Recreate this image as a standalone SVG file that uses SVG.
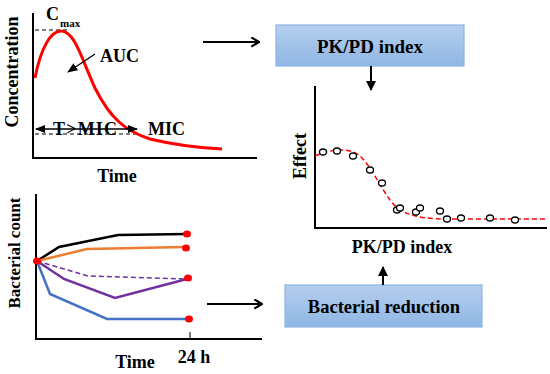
<svg xmlns="http://www.w3.org/2000/svg" width="550" height="374" viewBox="0 0 550 374">
<style>
text{font-family:"Liberation Serif","Times New Roman",serif;font-weight:bold;fill:#000;}
.t18{font-size:18px;}
.ax{stroke:#000;stroke-width:2;fill:none;}
.dash{stroke:#000;stroke-width:1;stroke-dasharray:4,3;fill:none;}
.conn{stroke:#000;stroke-width:2;fill:none;}
.box{fill:url(#bg);stroke:#8eb4e3;stroke-width:1.2;}
.dot{fill:#ff0000;}
.pt{fill:#fff;stroke:#000;stroke-width:1.3;}
</style>
<defs>
<linearGradient id="bg" x1="0" y1="0" x2="0" y2="1">
<stop offset="0" stop-color="#b5cfee"/>
<stop offset="1" stop-color="#8fb6e4"/>
</linearGradient>
<marker id="ah" viewBox="0 0 10 10" refX="9" refY="5" markerWidth="5" markerHeight="5" orient="auto-start-reverse" markerUnits="strokeWidth">
<path d="M0,0 L10,5 L0,10 z" fill="#000"/>
</marker>
<marker id="ao" viewBox="0 0 10 10" refX="9" refY="5" markerWidth="5.5" markerHeight="5.5" orient="auto" markerUnits="strokeWidth">
<path d="M2,0.8 L9,5 L2,9.2" fill="none" stroke="#000" stroke-width="2"/>
</marker>
<marker id="as" viewBox="0 0 10 10" refX="9" refY="5" markerWidth="8" markerHeight="8" orient="auto-start-reverse" markerUnits="strokeWidth">
<path d="M0,1 L10,5 L0,9 z" fill="#000"/>
</marker>
</defs>

<g id="concentration-plot">
<path class="ax" d="M33,13 L33,158 L257,158"/>
<path class="dash" d="M35,30 L70,30"/>
<path class="dash" d="M35,134 L138,134"/>
<path d="M35,78 C41,47 51,31 61,31 C75,31 82,60 95,88 C110,118 125,131 150,139 C175,145 200,148 222,149" fill="none" stroke="#ff0000" stroke-width="3"/>
<text class="t18" x="46" y="20">C</text>
<text x="60" y="27" style="font-size:11px">max</text>
<text class="t18" x="100" y="62">AUC</text>
<line x1="95" y1="54" x2="68" y2="72" stroke="#000" stroke-width="1.3" marker-end="url(#as)"/>
<line x1="36" y1="129" x2="137" y2="129" stroke="#000" stroke-width="1.3" marker-start="url(#as)" marker-end="url(#as)"/>
<text class="t18" x="53" y="135" textLength="64">T&gt;MIC</text>
<text class="t18" x="148" y="135">MIC</text>
<text class="t18" x="12" y="72" text-anchor="middle" transform="rotate(-90 12 72)" dy="6">Concentration</text>
<text class="t18" x="117" y="182" text-anchor="middle">Time</text>
</g>

<g id="bacterial-plot">
<path class="ax" d="M36,194 L36,339 L262,339"/>
<line x1="190" y1="332" x2="190" y2="339" stroke="#000" stroke-width="1"/>
<polyline points="37,261 59,247 118,235 187,234" fill="none" stroke="#000" stroke-width="2.5"/>
<polyline points="37,261 87,249 185,247" fill="none" stroke="#ed7d31" stroke-width="2.5"/>
<polyline points="37,261 88,276 187,279" fill="none" stroke="#7030a0" stroke-width="1.5" stroke-dasharray="5,3"/>
<polyline points="37,261 64,279 115,298 187,279" fill="none" stroke="#7030a0" stroke-width="2.5"/>
<polyline points="37,261 50,294 107,319 187,319" fill="none" stroke="#4472c4" stroke-width="2.5"/>
<ellipse class="dot" cx="37" cy="261" rx="4" ry="3.5"/>
<ellipse class="dot" cx="187" cy="234" rx="4" ry="3.5"/>
<ellipse class="dot" cx="186" cy="248" rx="4" ry="3.5"/>
<ellipse class="dot" cx="188" cy="278" rx="4" ry="3.5"/>
<ellipse class="dot" cx="189" cy="319" rx="4" ry="3.5"/>
<text class="t18" x="14" y="253" text-anchor="middle" transform="rotate(-90 14 253)" dy="6" style="font-size:17px">Bacterial count</text>
<text class="t18" x="135" y="368" text-anchor="middle">Time</text>
<text class="t18" x="194" y="363" text-anchor="middle">24 h</text>
</g>

<g id="pkpd-box">
<rect class="box" x="276" y="25" width="188" height="41"/>
<text class="t18" x="370" y="53" text-anchor="middle" style="font-size:19px">PK/PD index</text>
</g>

<g id="reduction-box">
<rect class="box" x="285" y="285" width="197" height="42"/>
<text class="t18" x="384" y="313" text-anchor="middle" style="font-size:18.5px">Bacterial reduction</text>
</g>

<g id="effect-plot">
<path class="ax" d="M315,86 L315,228 L547,228"/>
<path d="M315,156 C330,150 348,146 360,156 C375,170 385,200 400,210 C415,218 430,219 450,219 L545,219" fill="none" stroke="#ff0000" stroke-width="1.5" stroke-dasharray="5,3"/>
<ellipse class="pt" cx="323" cy="152" rx="3.5" ry="3"/>
<ellipse class="pt" cx="337" cy="151" rx="3.5" ry="3"/>
<ellipse class="pt" cx="353" cy="156" rx="3.5" ry="3"/>
<ellipse class="pt" cx="370" cy="170" rx="3.5" ry="3"/>
<ellipse class="pt" cx="382" cy="183" rx="3.5" ry="3"/>
<ellipse class="pt" cx="397" cy="210" rx="3.5" ry="3"/>
<ellipse class="pt" cx="400" cy="208" rx="3.5" ry="3"/>
<ellipse class="pt" cx="416" cy="212" rx="3.5" ry="3"/>
<ellipse class="pt" cx="420" cy="208" rx="3.5" ry="3"/>
<ellipse class="pt" cx="440" cy="211" rx="3.5" ry="3"/>
<ellipse class="pt" cx="447" cy="219" rx="3.5" ry="3"/>
<ellipse class="pt" cx="461" cy="218" rx="3.5" ry="3"/>
<ellipse class="pt" cx="490" cy="218" rx="3.5" ry="3"/>
<ellipse class="pt" cx="515" cy="220" rx="3.5" ry="3"/>
<text class="t18" x="300" y="156" text-anchor="middle" transform="rotate(-90 300 156)" dy="6">Effect</text>
<text class="t18" x="402" y="253" text-anchor="middle">PK/PD index</text>
</g>

<g id="connectors">
<line class="conn" x1="203" y1="42" x2="259" y2="42" marker-end="url(#ao)"/>
<line class="conn" x1="207" y1="304" x2="262" y2="304" marker-end="url(#ao)"/>
<line class="conn" x1="371" y1="66" x2="371" y2="90" marker-end="url(#ah)"/>
<line class="conn" x1="383" y1="285" x2="383" y2="267" marker-end="url(#ah)"/>
</g>
</svg>
